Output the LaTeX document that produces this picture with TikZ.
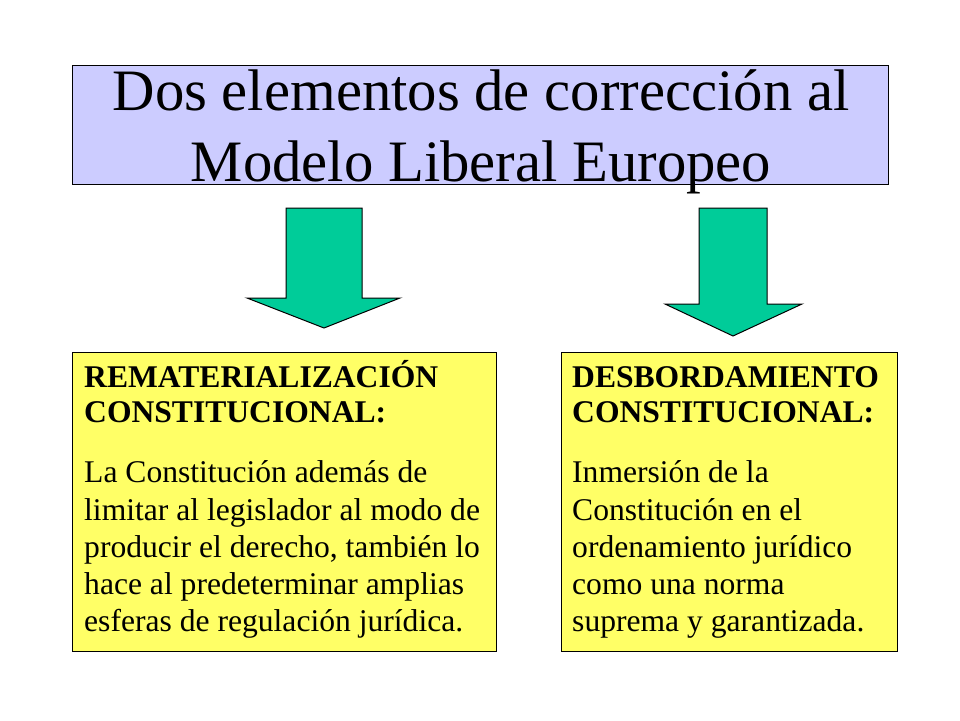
\documentclass[tikz,border=0pt]{standalone}
\usepackage{fontspec}
\setmainfont{Liberation Serif}
\definecolor{lav}{RGB}{204,204,255}
\definecolor{yel}{RGB}{255,255,102}
\definecolor{grn}{RGB}{0,204,153}
\begin{document}
\begin{tikzpicture}[x=1pt,y=-1pt,
  panel/.style={draw=black,line width=1pt,inner sep=0pt,outer sep=0pt},
  bodytxt/.style={inner sep=0pt,text depth=0pt,anchor=south west,align=left,font=\fontsize{31.6}{37.25}\selectfont},
  blockarrow/.style={draw=black,line width=1pt,fill=grn,line join=miter}]
\useasboundingbox (0,0) rectangle (960,720);
\fill[white] (0,0) rectangle (960,720);
% title
\node[panel,fill=lav,minimum width=816pt,minimum height=119pt] (title) at (480,124.5) {};
\node[inner sep=0pt,text depth=0pt,anchor=south,align=center,font=\fontsize{58.7}{70.8}\selectfont] (titletxt) at (481,181.5) {Dos elementos de corrección al\\Modelo Liberal Europeo};
% boxes
\node[panel,fill=yel,minimum width=424pt,minimum height=299pt] (left) at (284,501.5) {};
\node[panel,fill=yel,minimum width=336pt,minimum height=299pt] (right) at (729,501.5) {};
\node[bodytxt] (lefttxt) at (84,632) {\textbf{REMATERIALIZACIÓN}\\[-2.25pt]\textbf{CONSTITUCIONAL:}\\[22.75pt]La Constitución además de\\limitar al legislador al modo de\\producir el derecho, también lo\\hace al predeterminar amplias\\esferas de regulación jurídica.};
\node[bodytxt] (righttxt) at (572,632) {\textbf{DESBORDAMIENTO}\\[-2.25pt]\textbf{CONSTITUCIONAL:}\\[22.75pt]Inmersión de la\\Constitución en el\\ordenamiento jurídico\\como una norma\\suprema y garantizada.};
% block arrows
\draw[blockarrow] (286,208) -- (362,208) -- (362,298) -- (400,298) -- (324,328) -- (247,298) -- (286,298) -- cycle;
\draw[blockarrow] (699,208) -- (767,208) -- (767,304) -- (802,304) -- (733,336) -- (665,304) -- (699,304) -- cycle;
\end{tikzpicture}
\end{document}
